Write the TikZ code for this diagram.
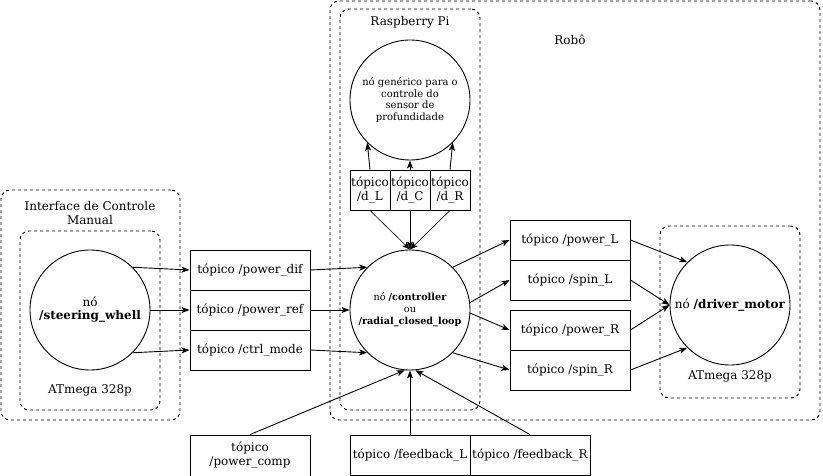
\documentclass[tikz,border=0pt]{standalone}
\usepackage{fontspec}
\setmainfont{DejaVu Serif}
\usetikzlibrary{arrows.meta}
\begin{document}
\begin{tikzpicture}[x=1pt,y=-1pt,line width=0.9pt,
  grp/.style={draw,dash pattern=on 3pt off 3pt,rounded corners=9pt,inner sep=0pt},
  topic/.style={draw,minimum width=120pt,minimum height=40pt,inner sep=0pt,font=\fontsize{12}{14}\selectfont,align=center},
  dbox/.style={draw,minimum width=40pt,minimum height=40pt,inner sep=0pt,font=\fontsize{12}{14}\selectfont,align=center},
  node circ/.style={draw,circle,minimum size=120pt,inner sep=0pt,align=center},
  lbl/.style={font=\fontsize{12}{14}\selectfont,align=center,inner sep=0pt},
  arr/.style={-{Stealth[length=8pt,width=6pt,inset=2pt]}}]
\useasboundingbox (0,0) rectangle (823,476);

% groups
\node[grp,minimum width=179pt,minimum height=230pt] (imc) at (90.5,305) {};
\node[grp,minimum width=140pt,minimum height=179pt] (atl) at (90,320.5) {};
\node[grp,minimum width=490pt,minimum height=419pt] (robo) at (575,210.5) {};
\node[grp,minimum width=140pt,minimum height=401pt] (rpi) at (410,209.5) {};
\node[grp,minimum width=140pt,minimum height=172pt] (atr) at (730,312) {};

\node[lbl] (timc) at (90,213.5) {Interface de Controle\\Manual};
\node[lbl] (tatl) at (90,390) {ATmega 328p};
\node[lbl] (trobo) at (570,40) {Robô};
\node[lbl] (trpi) at (410,22) {Raspberry Pi};
\node[lbl] (tatr) at (730,376) {ATmega 328p};

% nodes
\node[node circ,font=\fontsize{12}{13}\selectfont] (steer) at (90,310) {nó\\\textbf{/steering\_whell}};
\node[node circ,font=\fontsize{10}{11.8}\selectfont] (gen) at (410,100) {nó genérico para o\\controle do\\sensor de\\profundidade};
\node[node circ,font=\fontsize{9.7}{12}\selectfont] (ctrl) at (410,310) {nó \textbf{/controller}\\ou\\\textbf{/radial\_closed\_loop}};
\node[node circ,font=\fontsize{12}{14}\selectfont] (drv) at (730,305) {nó \textbf{/driver\_motor}};

\node[topic] (pd) at (250,270) {tópico /power\_dif};
\node[topic] (pr) at (250,310) {tópico /power\_ref};
\node[topic] (cm) at (250,350) {tópico /ctrl\_mode};

\node[dbox] (dL) at (370,190) {tópico\\/d\_L};
\node[dbox] (dC) at (410,190) {tópico\\/d\_C};
\node[dbox] (dR) at (450,190) {tópico\\/d\_R};

\node[topic] (pL) at (570,240) {tópico /power\_L};
\node[topic] (sL) at (570,280) {tópico /spin\_L};
\node[topic] (pR) at (570,330) {tópico /power\_R};
\node[topic] (sR) at (570,370) {tópico /spin\_R};

\node[topic,minimum height=41pt] (pc) at (250,455.5) {tópico\\/power\_comp};
\node[topic,minimum height=40pt] (fL) at (410,455) {tópico /feedback\_L};
\node[topic,minimum height=40pt] (fR) at (530,455) {tópico /feedback\_R};

% connectors
\draw[arr] (steer.45) -- (pd.west);
\draw[arr] (steer.east) -- (pr.west);
\draw[arr] (steer.-45) -- (cm.west);

\draw[arr] (pd.east) -- (ctrl.135);
\draw[arr] (pr.east) -- (ctrl.west);
\draw[arr] (cm.east) -- (ctrl.225);

\draw[arr] (dL.north) -- (gen.225);
\draw[arr] (dC.north) -- (gen.south);
\draw[arr] (dR.north) -- (gen.315);

\draw[arr,line width=0.6pt] (dL.south) -- (ctrl.north);
\draw[arr,line width=0.6pt] (dC.south) -- (ctrl.north);
\draw[arr,line width=0.6pt] (dR.south) -- (ctrl.north);

\draw[arr] (ctrl.45) -- (pL.west);
\draw[arr] (ctrl.7) -- (sL.west);
\draw[arr] (ctrl.-3) -- (pR.west);
\draw[arr] (ctrl.-45) -- (sR.west);

\draw[arr] (pL.east) -- (drv.135);
\draw[arr] (sL.east) -- (drv.west);
\draw[arr] (pR.east) -- (drv.west);
\draw[arr] (sR.east) -- (drv.225);

\draw[arr] (pc.north) -- (ctrl.265);
\draw[arr] (fL.north) -- (ctrl.south);
\draw[arr] (fR.north) -- (ctrl.275);
\end{tikzpicture}
\end{document}
